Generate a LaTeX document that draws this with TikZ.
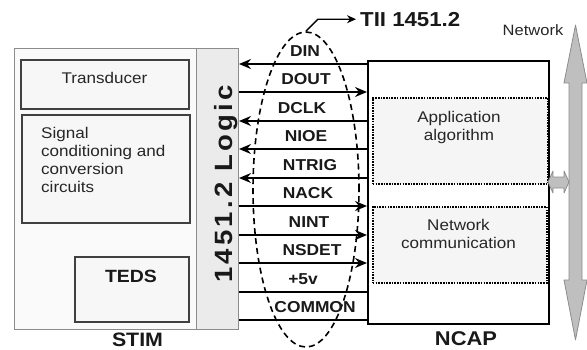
\documentclass[tikz,border=0pt]{standalone}
\usepackage{fontspec}
\setmainfont{Liberation Sans}[FakeStretch=1.1]
\usetikzlibrary{shapes.geometric,arrows.meta}
\begin{document}
\begin{tikzpicture}[x=1pt,y=-1pt,
  inbox/.style={draw=black!75, line width=1.5pt, fill=black!3, inner sep=0pt, anchor=north west},
  dotbox/.style={draw=black, line width=1.6pt, dash pattern=on 1.6pt off 1.1pt, fill=black!4, inner sep=0pt, anchor=north west},
  sig/.style={line width=1.6pt, draw=black},
  tipl/.style={{Stealth[length=12pt,width=10pt,inset=4pt]}-},
  tipr/.style={-{Stealth[length=12pt,width=10pt,inset=4pt]}},
  lbl/.style={font=\fontsize{15.8}{18}\selectfont\bfseries, inner sep=0pt, anchor=base, text=black!90},
  txt/.style={font=\fontsize{15.5}{18}\selectfont, inner sep=0pt, text=black!85},
  bigarrow/.style={fill=black!25, draw=black!45, line width=0.8pt, line join=round},
]
\useasboundingbox (0,0) rectangle (587,349);

% STIM
\node[draw=black!45, line width=1pt, fill=black!2, minimum width=224pt, minimum height=281pt, anchor=north west, inner sep=0pt] (stim) at (14,48) {};
\node[draw=black!45, line width=1pt, fill=black!8, minimum width=42pt, minimum height=281pt, anchor=north west, inner sep=0pt] (logic) at (196,48) {};
\node[inbox, minimum width=168pt, minimum height=49pt] (trans) at (20,59) {};
\node[inbox, minimum width=168pt, minimum height=108pt] (signal) at (21,114) {};
\node[inbox, minimum width=114pt, minimum height=65pt] (teds) at (74,256) {};

\node[txt, anchor=base] (transT) at (104.5,83) {Transducer};
\node[txt, anchor=north west, align=left] (sigT) at (41,127) {Signal\\conditioning and\\conversion\\circuits};
\node[lbl, font=\fontsize{17.7}{20}\selectfont\bfseries] (tedsT) at (131,282) {TEDS};
\node[rotate=90, anchor=base, inner sep=0pt, text=black!90, font=\fontsize{25}{25}\selectfont\bfseries\addfontfeature{LetterSpace=13}] (logicT) at (232,184) {1451.2 Logic};
\node[lbl, font=\fontsize{19.4}{22}\selectfont\bfseries] (stimT) at (137.5,346) {STIM};

% NCAP
\node[draw=black, line width=1.6pt, fill=white, minimum width=181pt, minimum height=263pt, anchor=north west, inner sep=0pt] (ncap) at (367,60) {};
\node[dotbox, minimum width=175pt, minimum height=86pt] (app) at (372,97) {};
\node[dotbox, minimum width=174pt, minimum height=76pt] (net) at (372,206) {};
\node[txt, anchor=north, align=center] (appT) at (459,111) {Application\\algorithm};
\node[txt, anchor=north, align=center] (netT) at (458.5,219) {Network\\communication};
\node[lbl, font=\fontsize{19.9}{22}\selectfont\bfseries] (ncapT) at (466,345) {NCAP};

% Interface ellipse
\node[ellipse, draw=black, line width=1.6pt, dash pattern=on 6pt off 4pt, minimum width=106pt, minimum height=315pt, inner sep=0pt] (tii) at (306,189.5) {};
\node[lbl, anchor=base west, font=\fontsize{20.2}{22}\selectfont\bfseries] (tiiT) at (360,26) {TII 1451.2};
\draw[line width=1.4pt, -{Stealth[length=9pt,width=8pt]}, shorten >=4pt] (tii.north) -- ++(12,-12) coordinate (bend) -- (bend -| tiiT.west);

% signal lines
\coordinate (y1) at (0,64);
\coordinate (y2) at (0,92);
\coordinate (y3) at (0,121);
\coordinate (y4) at (0,149);
\coordinate (y5) at (0,178);
\coordinate (y6) at (0,206);
\coordinate (y7) at (0,235);
\coordinate (y8) at (0,263);
\coordinate (y9) at (0,292);
\coordinate (y10) at (0,320);
\draw[sig, tipl] (stim.east |- y1) -- (ncap.west |- y1);
\draw[sig, tipr] (stim.east |- y2) -- (ncap.west |- y2);
\draw[sig, tipl] (stim.east |- y3) -- (ncap.west |- y3);
\draw[sig, tipl] (stim.east |- y4) -- (ncap.west |- y4);
\draw[sig, tipl] (stim.east |- y5) -- (ncap.west |- y5);
\draw[sig, tipr] (stim.east |- y6) -- (ncap.west |- y6);
\draw[sig, tipr] (stim.east |- y7) -- (ncap.west |- y7);
\draw[sig, tipr] (stim.east |- y8) -- (ncap.west |- y8);
\draw[sig] (stim.east |- y9) -- (ncap.west |- y9);
\draw[sig] (stim.east |- y10) -- (ncap.west |- y10);

\node[lbl] (l1) at (305,56) {DIN};
\node[lbl] (l2) at (306,84) {DOUT};
\node[lbl] (l3) at (302,113) {DCLK};
\node[lbl] (l4) at (306,141) {NIOE};
\node[lbl] (l5) at (310,170) {NTRIG};
\node[lbl] (l6) at (308,198) {NACK};
\node[lbl] (l7) at (309,227) {NINT};
\node[lbl] (l8) at (312,255) {NSDET};
\node[lbl] (l9) at (303,284) {+5v};
\node[lbl] (l10) at (315,312) {COMMON};

% Network bus
\node[txt, anchor=base, font=\fontsize{15}{18}\selectfont] (netw) at (533,35) {Network};
\draw[bigarrow] (575.5,25) -- (587,83) -- (582,83) -- (582,280) -- (587,280) -- (575.5,340) -- (564,280) -- (569,280) -- (569,83) -- (564,83) -- cycle;
\draw[bigarrow] (548,182) -- (553,171) -- (553,177) -- (564,177) -- (564,171) -- (569,182) -- (564,193) -- (564,188) -- (553,188) -- (553,193) -- cycle;
\end{tikzpicture}
\end{document}
